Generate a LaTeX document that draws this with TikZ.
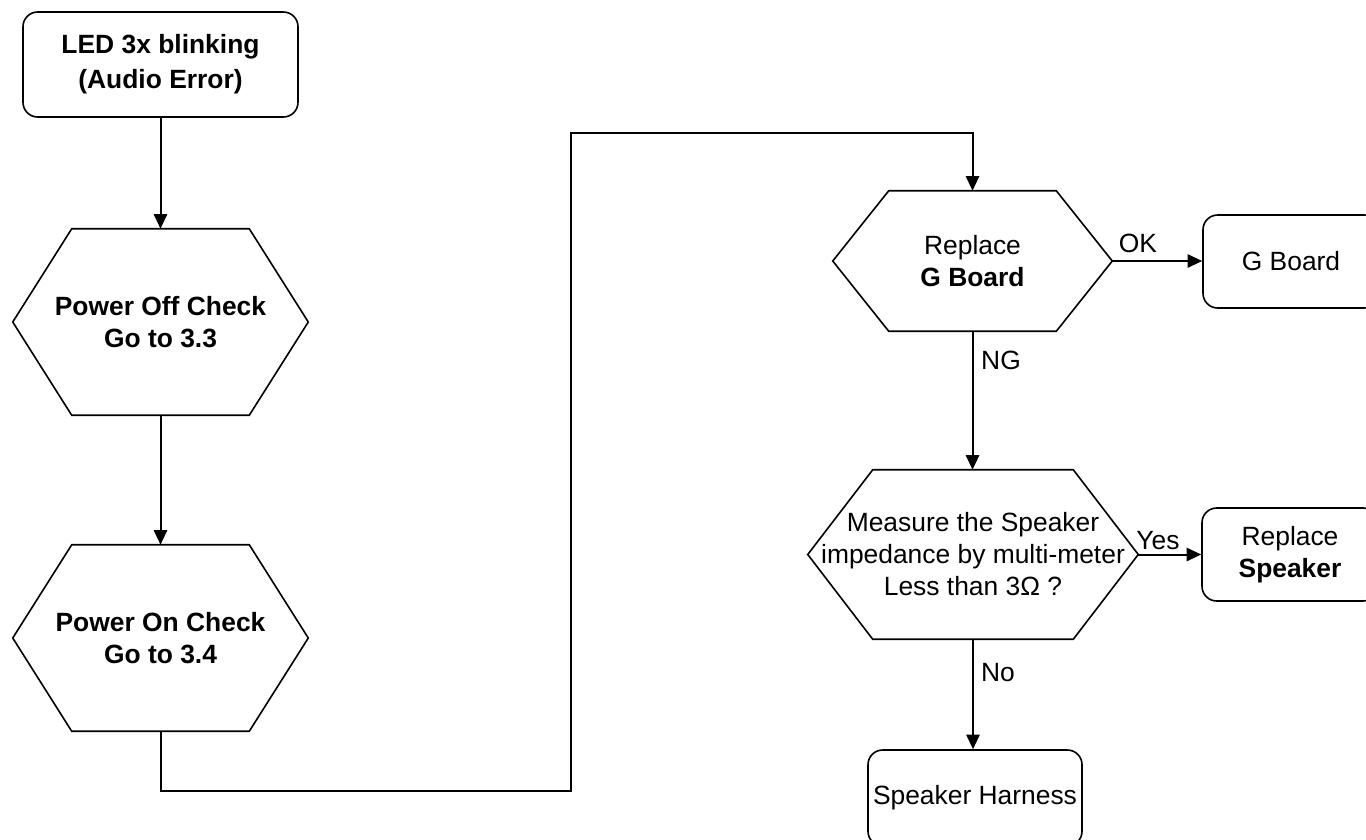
\documentclass[tikz,border=0pt]{standalone}
\usepackage{fontspec}
\setmainfont{Liberation Sans}
\usetikzlibrary{arrows.meta}
\newcommand{\hexdraw}[2]{\draw[hexline] (#1.west) -- ([xshift=#2]#1.north west) -- ([xshift=-#2]#1.north east) -- (#1.east) -- ([xshift=-#2]#1.south east) -- ([xshift=#2]#1.south west) -- cycle;}
\begin{document}
\begin{tikzpicture}[x=0.75pt,y=-0.75pt,
  every node/.style={font=\fontsize{19.8pt}{24pt}\selectfont, inner sep=0pt, align=center},
  rbox/.style={draw, line width=1.2pt, rounded corners=11pt},
  hexline/.style={line width=1.2pt, line join=miter},
  conn/.style={line width=1.5pt, -{Triangle[length=11pt,width=10pt]}},
  plainline/.style={line width=1.5pt}]
\useasboundingbox (0,0) rectangle (1366,839);
\clip (0,0) rectangle (1366,839);
% nodes
\node[rbox, minimum width=275*0.75pt, minimum height=105*0.75pt, font=\fontsize{19.8pt}{26pt}\selectfont\bfseries]
  (top) at (160.5,64.5) {LED 3x blinking\\(Audio Error)};
\node[minimum width=295*0.75pt, minimum height=186*0.75pt, font=\fontsize{19.8pt}{24pt}\selectfont\bfseries]
  (h1) at (160.5,322) {Power Off Check\\Go to 3.3};
\hexdraw{h1}{59*0.75pt}
\node[minimum width=295*0.75pt, minimum height=186*0.75pt, font=\fontsize{19.8pt}{24pt}\selectfont\bfseries]
  (h2) at (160.5,638) {Power On Check\\Go to 3.4};
\hexdraw{h2}{59*0.75pt}
\node[minimum width=279*0.75pt, minimum height=140*0.75pt]
  (h3) at (972.5,261) {Replace\\\textbf{G Board}};
\hexdraw{h3}{56*0.75pt}
\node[minimum width=330*0.75pt, minimum height=169*0.75pt]
  (h4) at (973,554.5) {Measure the Speaker\\impedance by multi-meter\\Less than 3Ω ?};
\hexdraw{h4}{65*0.75pt}
\node[rbox, minimum width=176*0.75pt, minimum height=93*0.75pt]
  (gb) at (1291,261.5) {G Board};
\node[rbox, minimum width=176*0.75pt, minimum height=93*0.75pt]
  (rs) at (1290,554.5) {Replace\\\textbf{Speaker}};
\node[rbox, minimum width=214*0.75pt, minimum height=96*0.75pt]
  (sh) at (975,798) {Speaker Harness};
% connector corners
\coordinate (c1) at (571,791);
\coordinate (c2) at (571,133);
% connectors
\draw[conn] (top.south) -- (h1.north);
\draw[conn] (h1.south) -- (h2.north);
\draw[conn] (h2.south) |- (c1) -- (c2) -| (h3.north);
\draw[conn] (h3.east) -- (h3.east -| gb.west);
\draw[conn] (h3.south) -- (h3.south |- h4.north);
\draw[conn] (h4.east) -- (h4.east -| rs.west);
\draw[conn] (h4.south) -- (h4.south |- sh.north);
% labels
\node (lok) at (1138,243) {OK};
\node (lng) at (1001,360) {NG};
\node (lyes) at (1158,541) {Yes};
\node (lno) at (998,673) {No};
\end{tikzpicture}
\end{document}
